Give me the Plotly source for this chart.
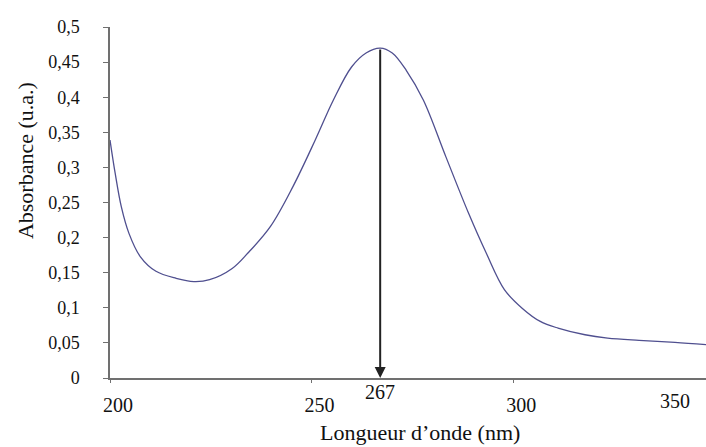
import plotly.graph_objects as go

# UV absorption spectrum
wavelength_nm = [200, 201.3, 202.8, 204.7, 207.5, 211.4, 216.4, 220.8, 224.7, 230.3,
                 234.2, 239.8, 245.4, 250.9, 255.4, 259.9, 263.5, 267, 270, 273.5,
                 277.7, 283.3, 288.9, 293.3, 297.8, 302.2, 306.7, 311.1, 317.8, 323.4,
                 331.2, 340.1, 348]
absorbance = [0.339, 0.291, 0.244, 0.206, 0.173, 0.152, 0.142, 0.1374, 0.140, 0.156,
              0.178, 0.216, 0.273, 0.339, 0.396, 0.443, 0.463, 0.470, 0.463, 0.438,
              0.396, 0.315, 0.235, 0.178, 0.126, 0.0995, 0.0806, 0.0711, 0.0616, 0.0569,
              0.0536, 0.0507, 0.0474]

peak_nm = 267
peak_abs = 0.470

x_ticks = [200, 250, 300]
x_tick_text = ["200", "250", "300"]
x_last_label = "350"
y_ticks = [0, 0.05, 0.1, 0.15, 0.2, 0.25, 0.3, 0.35, 0.4, 0.45, 0.5]
y_tick_text = ["0", "0,05", "0,1", "0,15", "0,2", "0,25", "0,3", "0,35", "0,4", "0,45", "0,5"]

FONT = "Liberation Serif"
TEXT_COLOR = "#111111"
AXIS_COLOR = "#707070"

fig = go.Figure()
fig.add_trace(go.Scatter(
    x=wavelength_nm, y=absorbance, mode="lines",
    line=dict(color="#4f4f8f", width=1.3, shape="spline", smoothing=1.0),
    hoverinfo="skip", showlegend=False,
))

# arrow from the absorption maximum down to the axis
fig.add_annotation(
    x=peak_nm, y=0, ax=peak_nm, ay=peak_abs, xref="x", yref="y", axref="x", ayref="y",
    text="", showarrow=True, arrowhead=2, arrowsize=1.1, arrowwidth=2, arrowcolor="#222222",
)
fig.add_annotation(
    x=peak_nm, y=0, xref="x", yref="paper", yshift=-14, yanchor="middle",
    text=str(peak_nm), showarrow=False, font=dict(family=FONT, size=20, color=TEXT_COLOR),
)
fig.add_annotation(
    x=1, y=0, xref="paper", yref="paper", xanchor="right", xshift=-14, yshift=-23,
    yanchor="middle", text=x_last_label, showarrow=False,
    font=dict(family=FONT, size=20, color=TEXT_COLOR),
)

# axis titles
fig.add_annotation(
    x=0.52, y=-0.154, xref="paper", yref="paper", xanchor="center", yanchor="middle",
    text="Longueur d\u2019onde (nm)", showarrow=False,
    font=dict(family=FONT, size=22, color=TEXT_COLOR),
)
fig.add_annotation(
    x=0, y=0.618, xref="paper", yref="paper", xanchor="center", yanchor="middle",
    xshift=-85, textangle=-90,
    text="Absorbance (u.a.)", showarrow=False,
    font=dict(family=FONT, size=22, color=TEXT_COLOR),
)

fig.update_xaxes(
    range=[200, 347.8], tickvals=x_ticks, ticktext=x_tick_text,
    showline=True, linecolor=AXIS_COLOR, linewidth=1.5, showgrid=False, zeroline=False,
    ticks="outside", ticklen=3, tickcolor=AXIS_COLOR,
    ticklabelshift=8, ticklabelstandoff=5,
    tickfont=dict(family=FONT, size=20, color=TEXT_COLOR),
)
fig.update_yaxes(
    range=[0, 0.5], tickvals=y_ticks, ticktext=y_tick_text,
    showline=True, linecolor=AXIS_COLOR, linewidth=1.5, showgrid=False, zeroline=False,
    ticks="outside", ticklen=5, tickcolor=AXIS_COLOR, ticklabelstandoff=20,
    tickfont=dict(family=FONT, size=18, color=TEXT_COLOR),
)

fig.update_layout(
    width=706, height=447,
    margin=dict(l=110, r=0, t=27, b=69),
    paper_bgcolor="white", plot_bgcolor="white",
    font=dict(family=FONT),
)

fig.write_html("out.html")
